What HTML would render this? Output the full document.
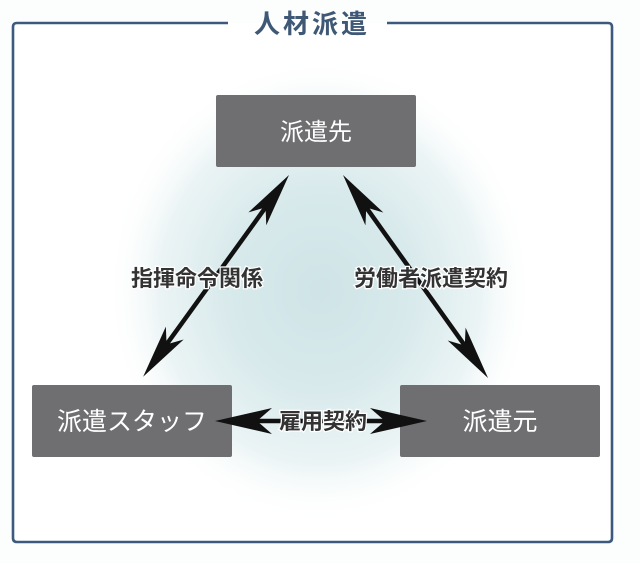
<!DOCTYPE html>
<html><head><meta charset="utf-8"><style>
html,body{margin:0;padding:0;background:#fcfdfd;}
svg{display:block;}
text{font-family:"Liberation Sans","Noto Sans CJK JP",sans-serif;}
</style></head><body>
<svg width="640" height="563" viewBox="0 0 640 563" xmlns="http://www.w3.org/2000/svg">
<defs>
<radialGradient id="glow" cx="320" cy="290" r="215" gradientUnits="userSpaceOnUse" gradientTransform="translate(320 290) scale(1 1.08) translate(-320 -290)">
<stop offset="0" stop-color="#cfe4e7"/>
<stop offset="0.4" stop-color="#d7e9eb"/>
<stop offset="0.75" stop-color="#ebf4f5"/>
<stop offset="1" stop-color="#ffffff" stop-opacity="0"/>
</radialGradient>
</defs>
<rect x="0" y="0" width="640" height="563" fill="#fcfdfd"/>
<rect x="13" y="23" width="599" height="519" fill="#ffffff"/>
<rect x="13" y="23" width="599" height="519" fill="url(#glow)"/>
<!-- frame -->
<path d="M228 23 L17 23 Q13 23 13 27 L13 538 Q13 542 17 542 L608 542 Q612 542 612 538 L612 27 Q612 23 608 23 L387 23" fill="none" stroke="#3d5a7e" stroke-width="2.6"/>
<text x="312" y="33" text-anchor="middle" font-size="26" font-weight="bold" fill="#3e5876" letter-spacing="3">人材派遣</text>

<!-- boxes -->
<rect x="216" y="95" width="200" height="72" rx="2" fill="#6f6e71"/>
<text x="316" y="140" text-anchor="middle" font-size="24" fill="#ffffff">派遣先</text>
<rect x="32" y="385" width="200" height="72" rx="2" fill="#6f6e71"/>
<text x="132" y="430" text-anchor="middle" font-size="25" fill="#ffffff">派遣スタッフ</text>
<rect x="400" y="385" width="200" height="72" rx="2" fill="#6f6e71"/>
<text x="500" y="430" text-anchor="middle" font-size="25" fill="#ffffff">派遣元</text>

<!-- left diagonal -->
<g transform="translate(289 175) rotate(125.86)" fill="#111">
<line x1="35" y1="0" x2="214" y2="0" stroke="#111" stroke-width="4.5"/>
<path d="M0 0 L54 -11 L40 0 L54 11 Z"/>
<path d="M249 0 L195 -11 L209 0 L195 11 Z"/>
</g>
<!-- right diagonal -->
<g transform="translate(343 175) rotate(54.46)" fill="#111">
<line x1="35" y1="0" x2="214" y2="0" stroke="#111" stroke-width="4.5"/>
<path d="M0 0 L54 -11 L40 0 L54 11 Z"/>
<path d="M249.5 0 L195.5 -11 L209.5 0 L195.5 11 Z"/>
</g>
<!-- horizontal -->
<g transform="translate(215 421)" fill="#111">
<line x1="40" y1="0" x2="172" y2="0" stroke="#111" stroke-width="4.5"/>
<path d="M0 0 L57 -13 L42 0 L57 13 Z"/>
<path d="M212 0 L155 -13 L170 0 L155 13 Z"/>
</g>

<!-- labels -->
<g font-size="22" font-weight="bold" fill="#333333" stroke="#ffffff" stroke-width="2.5" paint-order="stroke" text-anchor="middle">
<text x="197" y="286">指揮命令関係</text>
<text x="431" y="286">労働者派遣契約</text>
<text x="323" y="429">雇用契約</text>
</g>
</svg>
</body></html>
